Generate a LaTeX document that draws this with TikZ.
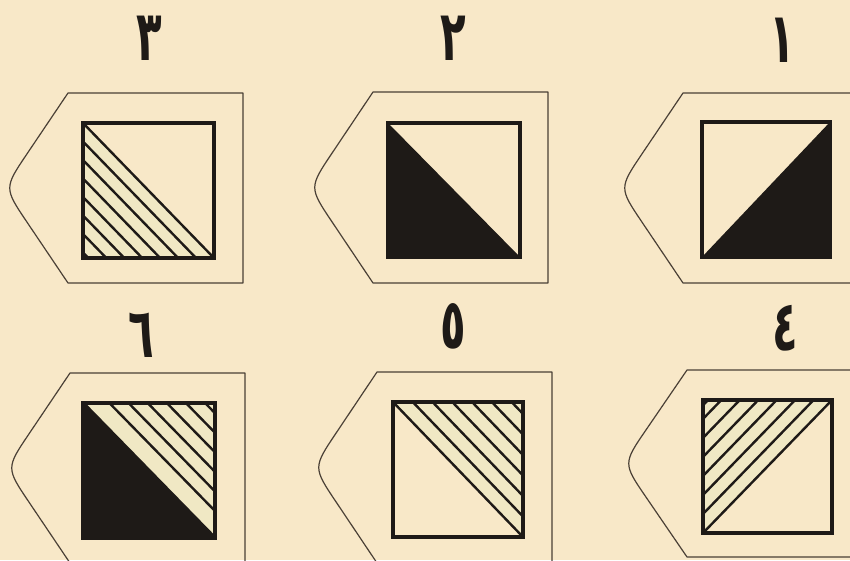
\documentclass[tikz,border=0pt]{standalone}
\usepackage{fontspec}
\newfontfamily\arabicfont[Script=Arabic]{DejaVu Sans}
\usetikzlibrary{calc}
\definecolor{paper}{HTML}{F8E8C8}
\definecolor{ink}{HTML}{1E1A17}
\definecolor{outerink}{HTML}{4A4036}
\definecolor{hatchbg}{HTML}{F0E8C4}
\tikzset{
  outerline/.style={draw=outerink, line width=1.2pt, line join=round},
  sqline/.style={draw=ink, line width=3.6pt, line join=miter},
  hatchline/.style={draw=ink, line width=2.4pt},
  numlabel/.style={font=\arabicfont\bfseries\fontsize{70}{74}\selectfont, text=ink, anchor=base, inner sep=0pt},
}
\newcommand{\outerpent}[4]{%
  \coordinate (P) at (#1-64,{(#3+#4)/2});
  \draw[outerline] (#1,#3) -- (#2,#3) -- (#2,#4) -- (#1,#4) -- ($(P)!0.36!(#1,#4)$) .. controls (P) .. ($(P)!0.36!(#1,#3)$) -- cycle;
}
\newcommand{\sqcorners}[5]{%
  \coordinate (#1tl) at (#2,#3);
  \coordinate (#1tr) at (#4,#3);
  \coordinate (#1bl) at (#2,#5);
  \coordinate (#1br) at (#4,#5);
}
\newcommand{\narrow}[1]{\scalebox{0.6}[1]{#1}}
\begin{document}
\begin{tikzpicture}[x=1pt,y=-1pt]
\useasboundingbox (0,0) rectangle (850,560);
\fill[paper] (0,0) rectangle (850,560);

% outer pentagon outlines
\outerpent{68}{243}{93}{283}
\outerpent{373}{548}{92}{283}
\outerpent{683}{860}{93}{283}
\outerpent{70}{245}{373}{563}
\outerpent{377}{552}{372}{563}
\outerpent{687}{860}{370}{557}

% square 3: hatched lower-left
\sqcorners{a}{83}{123}{214}{258}
\fill[hatchbg] (atl) -- (abl) -- (abr) -- cycle;
\foreach \f in {0,0.137,0.274,0.411,0.548,0.685,0.822,0.959}
  \draw[hatchline] ($(atl)!\f!(abl)$) -- ($(abr)!\f!(abl)$);
\draw[sqline] (atl) rectangle (abr);

% square 2: black lower-left
\sqcorners{b}{388}{123}{520}{257}
\fill[ink] (btl) -- (bbl) -- (bbr) -- cycle;
\draw[sqline] (btl) rectangle (bbr);

% square 1: black lower-right
\sqcorners{c}{702}{122}{830}{257}
\fill[ink] (cbl) -- (cbr) -- (ctr) -- cycle;
\draw[sqline] (ctl) rectangle (cbr);

% square 6: black lower-left, hatched upper-right
\sqcorners{d}{83}{403}{215}{538}
\fill[hatchbg] (dtl) -- (dtr) -- (dbr) -- cycle;
\fill[ink] (dtl) -- (dbl) -- (dbr) -- cycle;
\draw[ink, line width=3.4pt] (dtl) -- (dbr);
\foreach \f in {0.2,0.345,0.49,0.635,0.78,0.925}
  \draw[hatchline] ($(dtl)!\f!(dtr)$) -- ($(dbr)!\f!(dtr)$);
\draw[sqline] (dtl) rectangle (dbr);

% square 5: hatched upper-right
\sqcorners{e}{393}{402}{523}{537}
\fill[hatchbg] (etl) -- (etr) -- (ebr) -- cycle;
\foreach \f in {0,0.152,0.304,0.456,0.608,0.76,0.912}
  \draw[hatchline] ($(etl)!\f!(etr)$) -- ($(ebr)!\f!(etr)$);
\draw[sqline] (etl) rectangle (ebr);

% square 4: hatched upper-left
\sqcorners{g}{703}{400}{832}{533}
\fill[hatchbg] (gtl) -- (gtr) -- (gbl) -- cycle;
\foreach \f in {0,0.143,0.286,0.429,0.572,0.715,0.858,0.96}
  \draw[hatchline] ($(gtr)!\f!(gtl)$) -- ($(gbl)!\f!(gtl)$);
\draw[sqline] (gtl) rectangle (gbr);

% labels
\node[numlabel] (n3) at (149,60) {\narrow{٣}};
\node[numlabel] (n2) at (453,60) {\narrow{٢}};
\node[numlabel] (n1) at (782,62) {\narrow{١}};
\node[numlabel] (n6) at (141,357) {\narrow{٦}};
\node[numlabel] (n5) at (453,348) {\narrow{٥}};
\node[numlabel] (n4) at (785,350) {\narrow{٤}};
\end{tikzpicture}
\end{document}
